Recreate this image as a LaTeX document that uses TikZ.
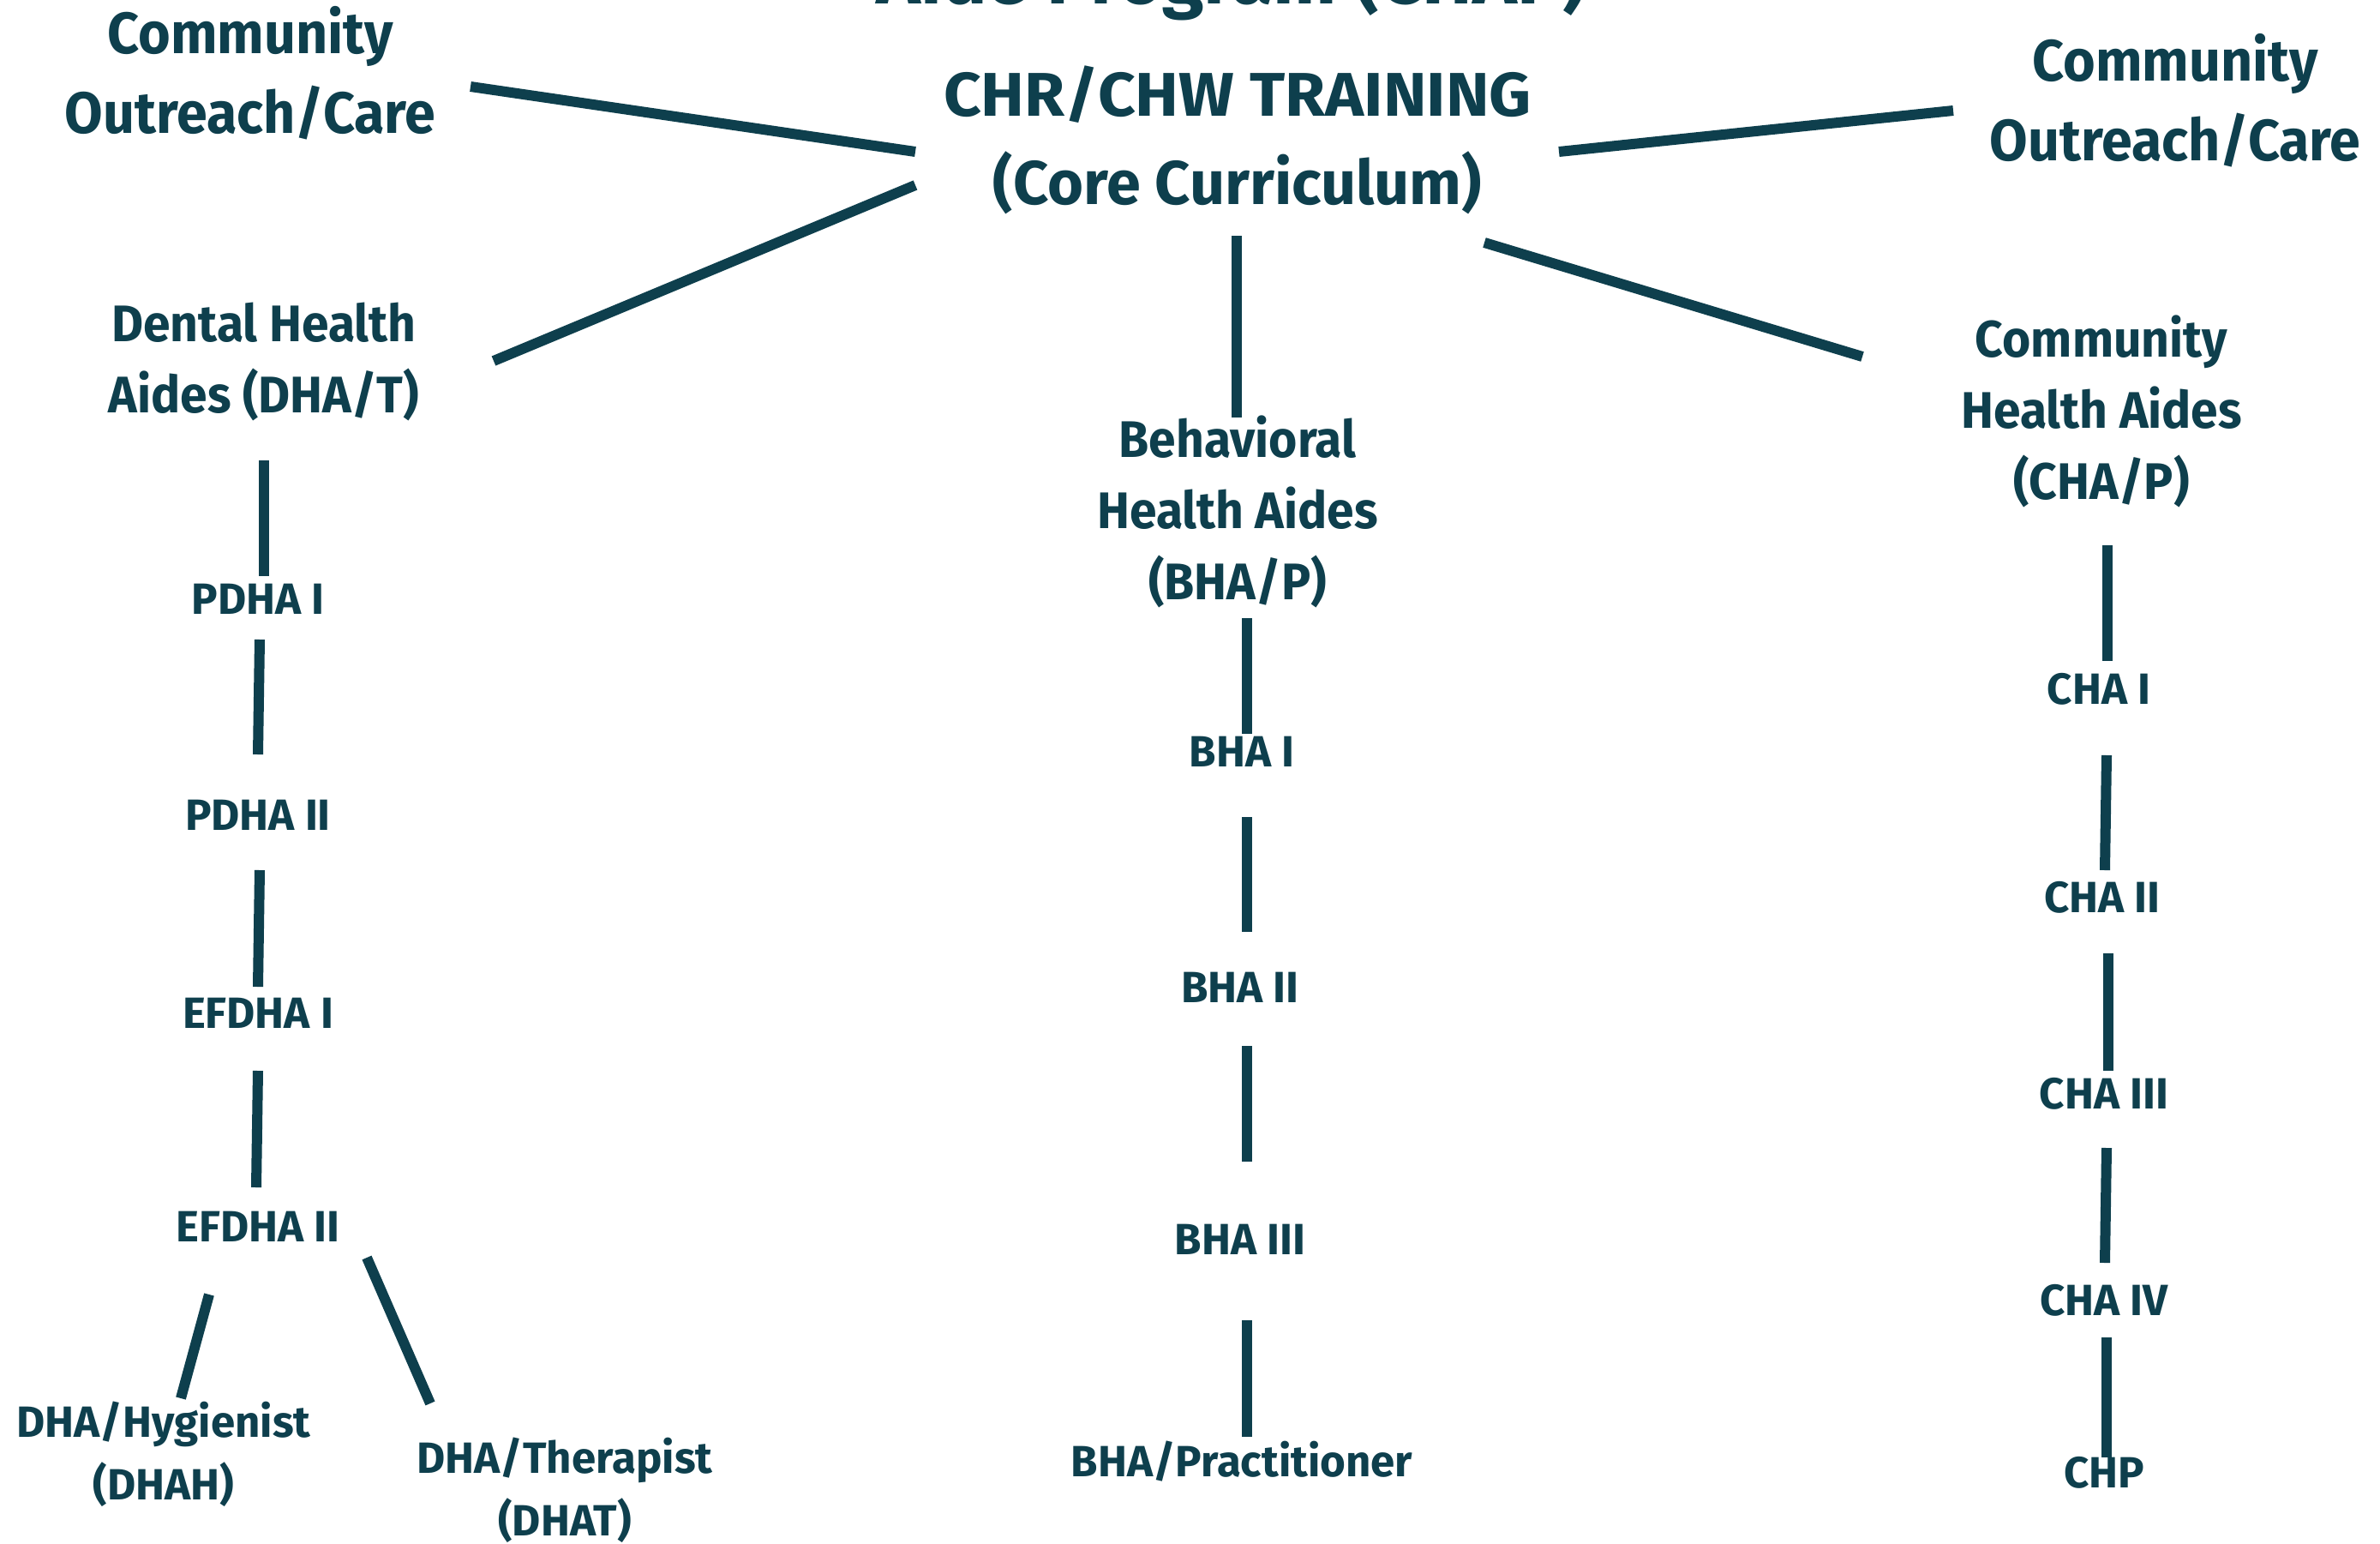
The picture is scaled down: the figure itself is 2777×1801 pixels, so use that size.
\documentclass[tikz,border=0pt]{standalone}
\usepackage{fontspec}
\setmainfont{Fira Sans}[FakeStretch=0.95]
\newfontfamily\fsn{Fira Sans}
\newfontfamily\fsw{Fira Sans}[FakeStretch=1.06]
\definecolor{chap}{HTML}{0E3F4D}
\newcommand\stk[1]{\vtop{\halign{\hfil##\hfil\cr#1\crcr}}}
\begin{document}
\begin{tikzpicture}[x=1pt,y=-1pt,
  txt/.style={anchor=base, inner sep=0pt, text=chap},
  ttl/.style={txt, font=\fsn\bfseries\fontsize{88}{100}\selectfont},
  hA/.style={txt, font=\fsn\bfseries\fontsize{72}{104}\selectfont},
  hB/.style={txt, font=\bfseries\fontsize{68}{93}\selectfont},
  hC/.style={txt, font=\bfseries\fontsize{60}{83}\selectfont},
  hD/.style={txt, font=\fsn\bfseries\fontsize{51}{73}\selectfont},
  conn/.style={draw=chap, line width=12pt, line cap=butt}]
\useasboundingbox (0,0) rectangle (2777,1801);
\fill[white] (0,0) rectangle (2777,1801);
\clip (0,0) rectangle (2777,1801);
% top level
\node[ttl] (title) at (1437,5) {Aide Program (CHAP)};
\node[hA] (chr) at (1444,135) {\stk{{\fsw\bfseries CHR/CHW TRAINING}\cr (Core Curriculum)}};
\node[hB] (outL) at (292,63) {\stk{Community\cr Outreach/Care}};
\node[hB] (outR) at (2538,94) {\stk{Community\cr Outreach/Care}};
\node[hC] (dha) at (308,398) {\stk{Dental Health\cr Aides (DHA/T)}};
\node[hC] (bha) at (1444,533) {\stk{Behavioral\cr Health Aides\cr (BHA/P)}};
\node[hC] (cha) at (2452,416) {\stk{Community\cr Health Aides\cr (CHA/P)}};
% dental column
\node[hD] (pdha1) at (301,716) {PDHA I};
\node[hD] (pdha2) at (301,968) {PDHA II};
\node[hD] (efdha1) at (301,1199) {EFDHA I};
\node[hD] (efdha2) at (301,1448) {EFDHA II};
\node[hD] (hyg) at (191,1676) {\stk{DHA/Hygienist\cr (DHAH)}};
\node[hD] (ther) at (659,1718) {\stk{DHA/Therapist\cr (DHAT)}};
% behavioral column
\node[hD] (bha1) at (1449,894) {BHA I};
\node[hD] (bha2) at (1447,1169) {BHA II};
\node[hD] (bha3) at (1447,1463) {BHA III};
\node[hD] (bhap) at (1449,1722) {BHA/Practitioner};
% community health column
\node[hD] (cha1) at (2449,821) {CHA I};
\node[hD] (cha2) at (2453,1064) {CHA II};
\node[hD] (cha3) at (2455,1293) {CHA III};
\node[hD] (cha4) at (2455,1534) {CHA IV};
\node[hD] (chp) at (2455,1735) {CHP};
% connectors from the core curriculum
\draw[conn] ([shift={(257,38)}]outL.base) -- ([shift={(-376,42)}]chr.base);
\draw[conn] ([shift={(-376,81)}]chr.base) -- ([shift={(268,23)}]dha.base);
\draw[conn] ([shift={(375,42)}]chr.base) -- ([shift={(-259,35)}]outR.base);
\draw[conn] ([shift={(-1,140)}]chr.base) -- ([shift={(-1,-46)}]bha.base);
\draw[conn] ([shift={(288,148)}]chr.base) -- ([shift={(-279,0)}]cha.base);
% dental chain
\draw[conn] ([shift={(0,139)}]dha.base) -- ([shift={(7,-44)}]pdha1.base);
\draw[conn] ([shift={(2,30)}]pdha1.base) -- ([shift={(0,-88)}]pdha2.base);
\draw[conn] ([shift={(2,47)}]pdha2.base) -- ([shift={(0,-48)}]efdha1.base);
\draw[conn] ([shift={(0,50)}]efdha1.base) -- ([shift={(-2,-63)}]efdha2.base);
\draw[conn] ([shift={(-57,62)}]efdha2.base) -- ([shift={(20,-45)}]hyg.base);
\draw[conn] ([shift={(127,19)}]efdha2.base) -- ([shift={(-157,-81)}]ther.base);
% behavioral chain
\draw[conn] ([shift={(11,188)}]bha.base) -- ([shift={(6,-38)}]bha1.base);
\draw[conn] ([shift={(6,59)}]bha1.base) -- ([shift={(8,-82)}]bha2.base);
\draw[conn] ([shift={(8,51)}]bha2.base) -- ([shift={(8,-108)}]bha3.base);
\draw[conn] ([shift={(8,77)}]bha3.base) -- ([shift={(6,-46)}]bhap.base);
% community health chain
\draw[conn] ([shift={(7,220)}]cha.base) -- ([shift={(10,-50)}]cha1.base);
\draw[conn] ([shift={(9,60)}]cha1.base) -- ([shift={(3,-49)}]cha2.base);
\draw[conn] ([shift={(7,48)}]cha2.base) -- ([shift={(5,-44)}]cha3.base);
\draw[conn] ([shift={(3,46)}]cha3.base) -- ([shift={(1,-61)}]cha4.base);
\draw[conn] ([shift={(3,26)}]cha4.base) -- ([shift={(3,-35)}]chp.base);
\end{tikzpicture}
\end{document}
